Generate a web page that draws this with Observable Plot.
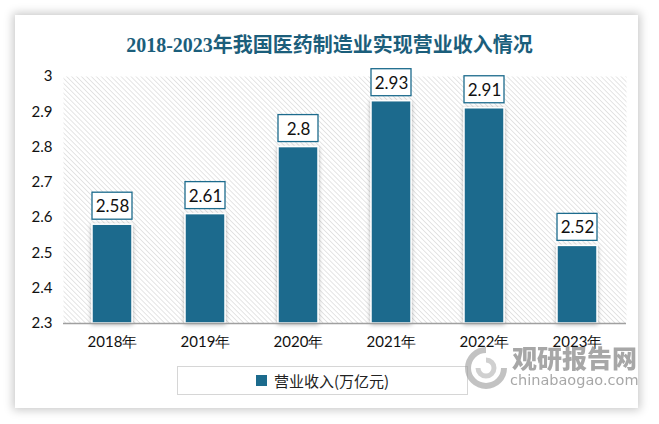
<!DOCTYPE html>
<html><head><meta charset="utf-8">
<script src="https://cdn.jsdelivr.net/npm/d3@7"></script>
<script src="https://cdn.jsdelivr.net/npm/@observablehq/plot@0.6"></script>
<style>
html,body{margin:0;padding:0;background:#fff;}
#wrap{position:relative;width:659px;height:424px;overflow:hidden;}
#card{position:absolute;left:15px;top:15px;width:623px;height:393px;background:#fff;box-shadow:0 0 9px 2px rgba(0,0,0,0.22);}
#title{position:absolute;left:0;top:29px;width:659px;text-align:center;font-family:"Liberation Serif","Noto Sans CJK SC",serif;font-size:20px;font-weight:600;color:#1b5e7b;}
#chart{position:absolute;left:0;top:60px;}
#legend{position:absolute;left:177px;top:366px;width:291px;height:29px;border:1px solid #d6d6d6;box-sizing:border-box;font-family:"Noto Sans CJK SC",sans-serif;font-size:15px;color:#222;display:flex;align-items:center;justify-content:center;}
#legend span.sw{display:inline-block;width:11px;height:11px;background:#1c6b8d;margin-right:7px;}
#wm1{position:absolute;left:512px;top:339px;font-family:"Noto Sans CJK SC",sans-serif;font-weight:900;font-size:25px;color:#8a8a8a;opacity:0.75;letter-spacing:0px;}
#wm2{position:absolute;left:510px;top:372px;font-family:"DejaVu Sans",sans-serif;font-size:14.5px;color:#8a8a8a;opacity:0.75;}
#logo{position:absolute;left:462px;top:346px;}
</style></head>
<body><div id="wrap">
<div id="card"></div>
<div id="title">2018-2023年我国医药制造业实现营业收入情况</div>
<div id="chart"></div>
<div id="legend"><span class="sw"></span>营业收入(万亿元)</div>
<svg id="logo" width="48" height="44" viewBox="0 0 48 44">
<path d="M24 4 A18 18 0 1 0 42 22" fill="none" stroke="#9a9a9a" stroke-width="6" opacity="0.6"/>
<path d="M24 14 A8 8 0 1 1 16 22" fill="none" stroke="#b0b0b0" stroke-width="5" opacity="0.6"/>
</svg>
<div id="wm1">观研报告网</div>
<div id="wm2">chinabaogao.com</div>
</div>
<script>
const years = ["2018年","2019年","2020年","2021年","2022年","2023年"];
const revenue = [2.58, 2.61, 2.8, 2.93, 2.91, 2.52];
const yTicks = [2.3, 2.4, 2.5, 2.6, 2.7, 2.8, 2.9, 3];
const yBase = 2.3;
const yMax = 3;

const data = years.map((y, i) => ({year: y, value: revenue[i]}));
const barColor = "#1c6b8d";

const chart = Plot.plot({
  width: 659,
  height: 300,
  marginLeft: 63,
  marginRight: 33,
  marginTop: 16,
  marginBottom: 37,
  style: {fontFamily: "Lato, 'Noto Sans', sans-serif", fontSize: "15px", color: "#111", background: "transparent"},
  x: {domain: years, paddingInner: 0.573, paddingOuter: 0.287, label: null, tickSize: 0, tickPadding: 13},
  y: {domain: [yBase, yMax], ticks: yTicks, tickFormat: d => String(+d.toFixed(1)), label: null, tickSize: 0, tickPadding: 11},
  marks: [
    Plot.frame({fill: "url(#hatch)", stroke: null}),
    Plot.barY(data, {x: "year", y1: yBase, y2: "value", fill: barColor, stroke: "#fff", strokeWidth: 1.5}),
    Plot.ruleY([yBase], {stroke: "#a0a0a0", strokeWidth: 1.5}),
    Plot.rect(data, {x: "year", y1: "value", y2: "value", insetTop: -32, insetBottom: 5, fill: "#fff", stroke: barColor, strokeWidth: 1.3}),
    Plot.text(data, {x: "year", y: "value", text: d => String(d.value), dy: -18, fontSize: 17, fill: "#111"})
  ]
});

const ns = "http://www.w3.org/2000/svg";
const defs = document.createElementNS(ns, "defs");
defs.innerHTML = `
<pattern id="hatch" width="3.5" height="3.5" patternUnits="userSpaceOnUse" patternTransform="rotate(-45)">
  <rect width="3.5" height="3.5" fill="#ffffff"/>
  <line x1="0" y1="0" x2="0" y2="3.5" stroke="#d4d4d4" stroke-width="1.2"/>
</pattern>
<filter id="shadow" x="-30%" y="-10%" width="160%" height="130%">
  <feDropShadow dx="0" dy="1" stdDeviation="2.2" flood-color="#000" flood-opacity="0.3"/>
</filter>`;
chart.insertBefore(defs, chart.firstChild);
chart.querySelectorAll("g[aria-label='bar'] rect").forEach(r => r.setAttribute("filter", "url(#shadow)"));
document.getElementById("chart").appendChild(chart);
</script>
</body></html>
